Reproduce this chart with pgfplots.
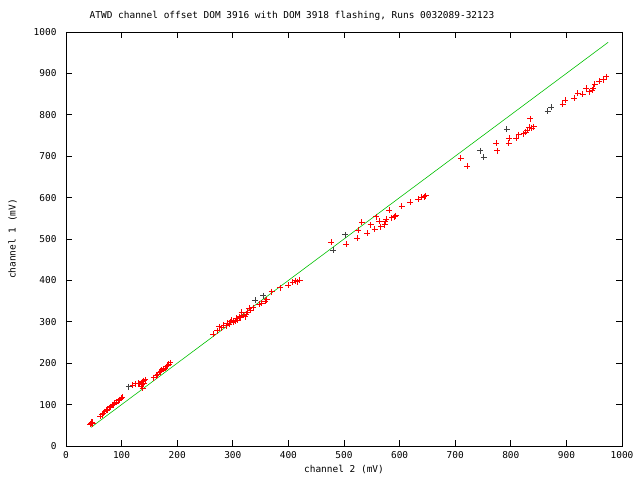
\documentclass[border=0pt]{standalone}
\usepackage{pgfplots}
\pgfplotsset{compat=1.18}
\usepackage{fontspec}
\setmonofont{DejaVu Sans Mono}
\definecolor{gpgreen}{RGB}{0,192,0}
\definecolor{gpred}{RGB}{255,0,0}
\begin{document}
\begin{tikzpicture}
\path[use as bounding box] (-66bp,-34bp) rectangle (574bp,446bp);
\begin{axis}[
  scale only axis, width=556bp, height=414bp,
  xmin=0, xmax=1000, ymin=0, ymax=1000,
  xtick={0,100,...,1000}, ytick={0,100,...,1000},
  tick align=inside, major tick length=6bp,
  /pgf/number format/assume math mode=true,
  /pgf/number format/1000 sep={},
  tick label style={font=\ttfamily\fontsize{9.5}{11}\selectfont},
  yticklabel style={xshift=-6bp},
  xticklabel style={yshift=-2bp},
  label style={font=\ttfamily\fontsize{9.5}{11}\selectfont},
  title style={font=\ttfamily\fontsize{9.5}{11}\selectfont, yshift=2bp, xshift=-52bp},
  title={ATWD channel offset DOM 3916 with DOM 3918 flashing, Runs 0032089-32123},
  xlabel={channel 2 (mV)}, ylabel={channel 1 (mV)},
  xlabel style={yshift=0bp}, ylabel style={yshift=10bp},
  axis line style={line width=0.8pt}, every tick/.style={line width=0.8pt, black},
]
\addplot[gpgreen, line width=0.6pt] coordinates {(45,45) (975,975)};
\addplot[only marks, mark=+, mark size=3bp, gpred, line width=0.9pt] coordinates {
(44,52)(45,55)(47,57)(48,54)(46,58)
(62,72)(65,76)(67,79)(70,83)(72,86)(75,88)(78,92)(80,95)(83,98)(86,100)(88,103)(91,106)(94,109)(96,112)(99,115)(101,118)
(120,147)(125,150)(130,152)(135,153)(138,155)(140,158)(135,145)(138,140)(140,150)(142,160)(137,148)(132,150)
(158,165)(162,170)(165,172)(168,178)(170,180)(172,183)(175,186)(178,188)(180,192)(183,195)(185,198)(187,201)
(265,270)(272,278)(276,288)(280,286)(284,292)(288,291)(290,296)(294,294)(296,300)(298,304)(301,299)(304,302)(306,308)(308,304)(312,312)(314,310)(316,323)(319,316)(322,312)(324,318)(326,323)(330,333)(332,328)(337,334)(348,342)(352,345)(358,350)(361,353)(370,373)(385,382)(400,389)(408,395)(412,399)(416,397)(420,400)
(477,492)(504,487)(524,502)(526,521)(532,540)(542,514)(548,534)(555,523)(558,554)(563,543)(566,530)(573,535)(574,542)(576,548)(581,569)(586,551)(591,554)(593,556)(604,579)(619,589)(633,596)(640,601)(644,602)(647,604)
(710,695)(722,676)(776,713)(774,731)(797,743)(796,731)(810,743)(814,752)(823,754)(827,758)(830,763)(833,770)(838,768)(841,771)(835,790)
(893,825)(898,835)(914,840)(920,852)(929,850)(936,864)(941,856)(946,859)(948,864)(951,874)(959,881)(966,885)(972,892)
};
\addplot[only marks, mark=+, mark size=3bp, black!75, line width=0.9pt] coordinates {
(113,143)(340,352)(355,363)(481,473)(502,510)(745,713)(751,697)(793,765)(866,808)(873,818)
};
\end{axis}
\end{tikzpicture}
\end{document}
